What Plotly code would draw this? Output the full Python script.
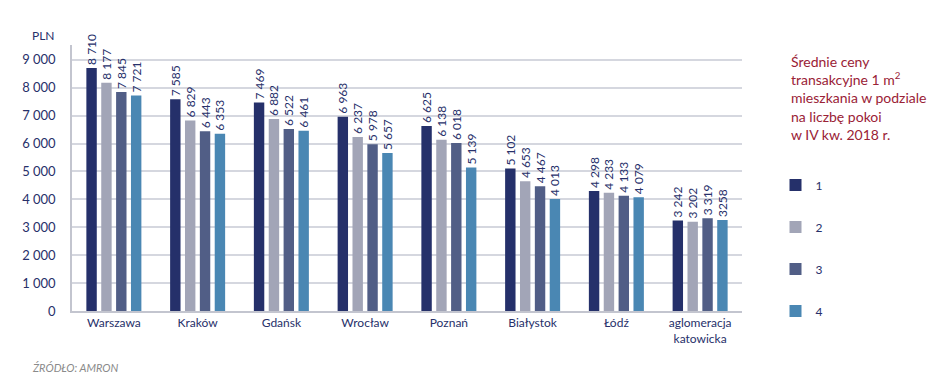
import plotly.graph_objects as go

categories = ["Warszawa", "Kraków", "Gdańsk", "Wrocław", "Poznań", "Białystok", "Łódź", "aglomeracja<br>katowicka"]
rooms_1 = [8710, 7585, 7469, 6963, 6625, 5102, 4298, 3242]
rooms_2 = [8177, 6829, 6882, 6237, 6138, 4653, 4233, 3202]
rooms_3 = [7845, 6443, 6522, 5978, 6018, 4467, 4133, 3319]
rooms_4 = [7721, 6353, 6461, 5657, 5139, 4013, 4079, 3258]
labels_4 = ["7 721", "6 353", "6 461", "5 657", "5 139", "4 013", "4 079", "3258"]
series_names = ["1", "2", "3", "4"]
tick_vals = [0, 1000, 2000, 3000, 4000, 5000, 6000, 7000, 8000, 9000]
tick_text = ["0", "1 000", "2 000", "3 000", "4 000", "5 000", "6 000", "7 000", "8 000", "9 000"]

colors = ["#25306a", "#a2a5b7", "#515e86", "#4a87b3"]
navy = "#27306a"
font_family = "Lato, 'Open Sans', sans-serif"


def fmt(v):
    return f"{v:,}".replace(",", " ")


fig = go.Figure()
all_series = [rooms_1, rooms_2, rooms_3, rooms_4]
for i, (name, vals) in enumerate(zip(series_names, all_series)):
    texts = labels_4 if i == 3 else [fmt(v) for v in vals]
    fig.add_trace(go.Bar(
        x=categories, y=vals, name=name,
        marker=dict(color=colors[i], line=dict(width=0)),
        text=texts, textposition="outside", textangle=-90,
        textfont=dict(size=12, color=navy, family=font_family),
        cliponaxis=False,
        legendgroup=name,
    ))

fig.update_layout(
    width=937, height=381,
    margin=dict(l=64, r=203, t=37, b=78),
    paper_bgcolor="white", plot_bgcolor="white",
    barmode="group", bargap=0.29, bargroupgap=0.3,
    font=dict(family=font_family, color=navy, size=12),
    showlegend=True,
    legend=dict(
        x=1.05, xanchor="left", y=0.528, yanchor="top",
        font=dict(size=12, color=navy),
        tracegroupgap=23, itemwidth=30,
        bgcolor="rgba(0,0,0,0)",
    ),
    uniformtext=dict(minsize=12, mode="show"),
)
fig.update_yaxes(
    range=[0, 9530], tickvals=tick_vals, ticktext=tick_text,
    showgrid=True, gridcolor="#d5d7df", gridwidth=1.5,
    showline=True, linecolor="#c3c5cf", linewidth=1.5,
    ticks="", tickfont=dict(size=13, color=navy), ticklabelstandoff=12,
    zeroline=False,
)
fig.update_xaxes(
    showline=True, linecolor="#c3c5cf", linewidth=1.5,
    ticks="", tickfont=dict(size=12, color=navy),
    tickangle=0,
)
fig.add_annotation(
    xref="paper", yref="paper", x=-0.063, y=1.0, yanchor="bottom", xanchor="left",
    text="PLN", showarrow=False, font=dict(size=12, color=navy), yshift=0,
)
fig.add_annotation(
    xref="paper", yref="paper", x=1.07, y=0.977, xanchor="left", yanchor="top",
    align="left",
    text="Średnie ceny<br>transakcyjne 1 m<sup>2</sup><br>mieszkania w podziale<br>na liczbę pokoi<br>w IV kw. 2018 r.",
    showarrow=False, font=dict(size=14, color="#9a2236"),
)
fig.add_annotation(
    xref="paper", yref="paper", x=-0.063, y=-0.214, xanchor="left", yanchor="middle",
    text="<i>ŹRÓDŁO: AMRON</i>", showarrow=False, font=dict(size=11, color="#8a8a8a"),
)

fig.write_html("out.html")
